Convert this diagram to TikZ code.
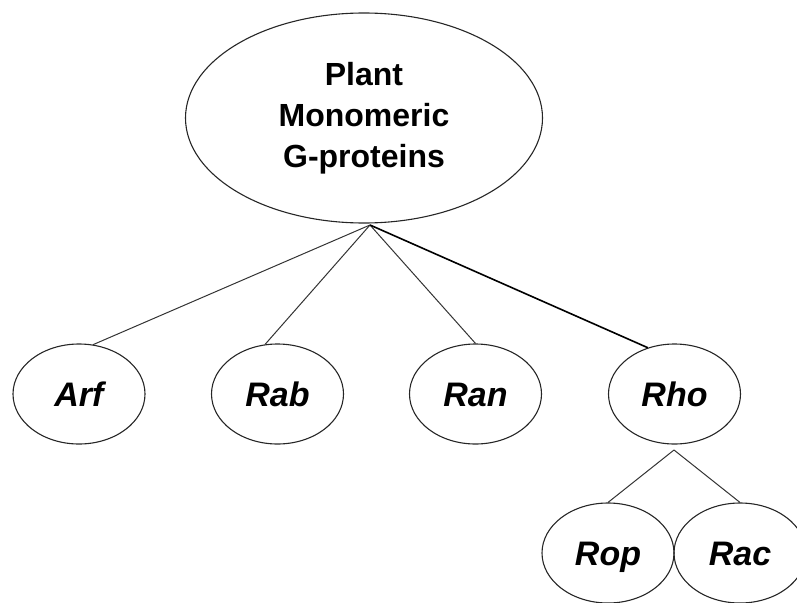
\documentclass[tikz,border=0pt]{standalone}
\usepackage{fontspec}
\setmainfont{Liberation Sans}
\usetikzlibrary{shapes.geometric}
\begin{document}
\begin{tikzpicture}[x=1pt,y=-1pt,
  ell/.style={draw=black!85, line width=1.1pt, ellipse, inner sep=0pt,
    minimum width=132pt, minimum height=100pt},
  leaf/.style={ell, font=\fontsize{34}{36}\selectfont\bfseries\itshape,
    text height=24pt, text depth=0pt},
  conn/.style={draw=black!80, line width=1pt}]
\useasboundingbox (0,0) rectangle (797,602);
\node[ell, minimum width=357pt, minimum height=210pt, align=center,
  font=\fontsize{32}{41}\selectfont\bfseries] (root) at (364,118)
  {Plant\\Monomeric\\G-proteins};
\coordinate (apex) at (370,225);
\node[leaf] (arf) at (79,394) {Arf};
\node[leaf] (rab) at (277.5,394) {Rab};
\node[leaf] (ran) at (475.5,394) {Ran};
\node[leaf] (rho) at (674.5,394) {Rho};
\coordinate (sub) at (674,450);
\node[leaf] (rop) at (608,553) {Rop};
\node[leaf] (rac) at (740,553) {Rac};
\draw[conn] (apex) -- (arf.74);
\draw[conn] (apex) -- (rab.104);
\draw[conn] (apex) -- (ran.north);
\draw[conn, line width=1.6pt, draw=black] (apex) -- (rho.120);
\draw[conn] (sub) -- (rop.north);
\draw[conn] (sub) -- (rac.north);
\end{tikzpicture}
\end{document}
